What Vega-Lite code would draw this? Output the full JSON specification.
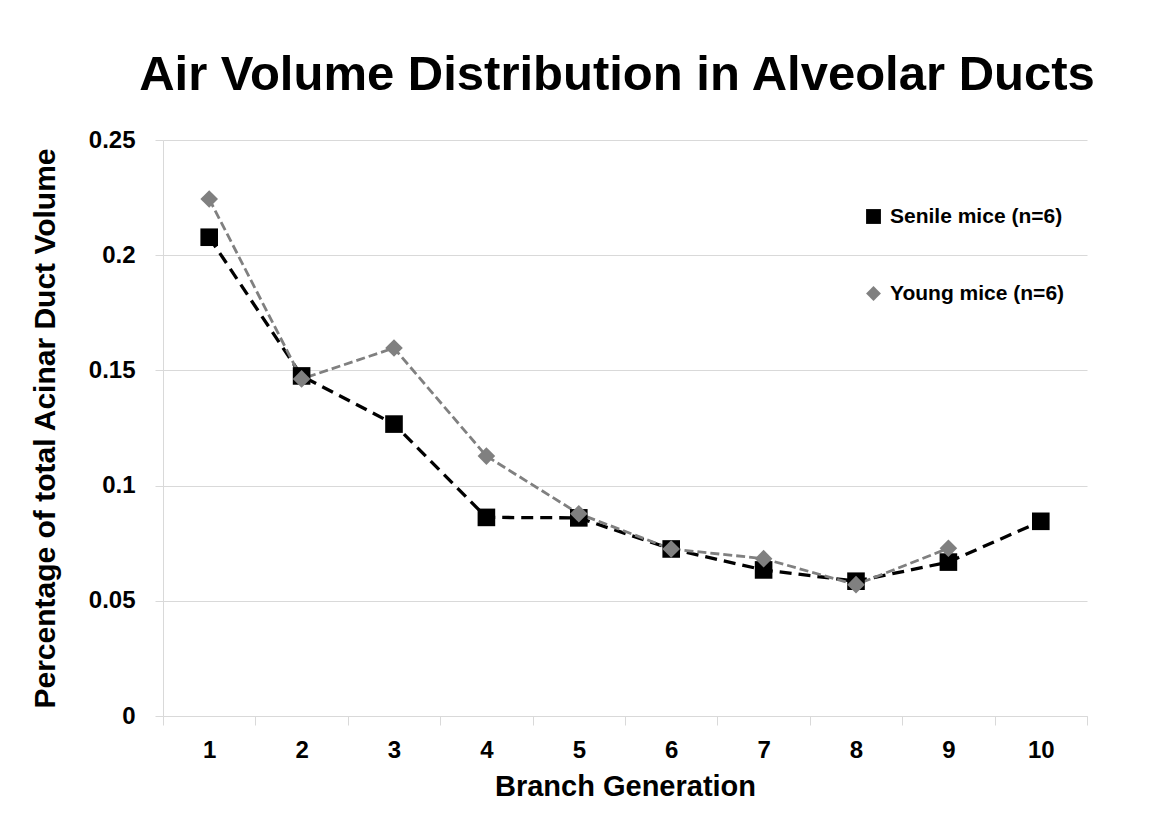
{
  "$schema": "https://vega.github.io/schema/vega-lite/v6.json",
  "autosize": {"type": "none"},
  "width": 924,
  "height": 576,
  "padding": {"left": 163, "top": 140, "right": 73, "bottom": 106},
  "background": "white",
  "title": {
    "text": "Air Volume Distribution in Alveolar Ducts",
    "font": "Liberation Sans",
    "fontSize": 49,
    "fontWeight": "bold",
    "color": "black",
    "anchor": "middle",
    "baseline": "alphabetic",
    "dx": -8,
    "offset": -11
  },
  "config": {
    "view": {"stroke": null},
    "font": "Liberation Sans",
    "axis": {
      "labelFont": "Liberation Sans",
      "titleFont": "Liberation Sans",
      "labelFontWeight": "bold",
      "titleFontWeight": "bold",
      "labelColor": "black",
      "titleColor": "black",
      "domainColor": "#d9d9d9",
      "tickColor": "#d9d9d9",
      "gridColor": "#d9d9d9",
      "domainWidth": 1,
      "tickWidth": 1,
      "gridWidth": 1
    },
    "legend": {
      "title": null,
      "orient": "none",
      "legendX": 700,
      "legendY": 66,
      "labelFont": "Liberation Sans",
      "labelFontSize": 21,
      "labelFontWeight": "bold",
      "labelColor": "black",
      "labelLimit": 400,
      "symbolSize": 220,
      "symbolStrokeWidth": 0,
      "rowPadding": 55,
      "labelOffset": 6
    }
  },
  "data": {
    "values": [
      {"gen": 1, "group": "Senile mice (n=6)", "value": 0.2078},
      {"gen": 2, "group": "Senile mice (n=6)", "value": 0.1476},
      {"gen": 3, "group": "Senile mice (n=6)", "value": 0.1267},
      {"gen": 4, "group": "Senile mice (n=6)", "value": 0.0862},
      {"gen": 5, "group": "Senile mice (n=6)", "value": 0.086},
      {"gen": 6, "group": "Senile mice (n=6)", "value": 0.0725},
      {"gen": 7, "group": "Senile mice (n=6)", "value": 0.0634},
      {"gen": 8, "group": "Senile mice (n=6)", "value": 0.0585},
      {"gen": 9, "group": "Senile mice (n=6)", "value": 0.0668},
      {"gen": 10, "group": "Senile mice (n=6)", "value": 0.0845},
      {"gen": 1, "group": "Young mice (n=6)", "value": 0.2244},
      {"gen": 2, "group": "Young mice (n=6)", "value": 0.1463},
      {"gen": 3, "group": "Young mice (n=6)", "value": 0.1597},
      {"gen": 4, "group": "Young mice (n=6)", "value": 0.1128},
      {"gen": 5, "group": "Young mice (n=6)", "value": 0.0878},
      {"gen": 6, "group": "Young mice (n=6)", "value": 0.0725},
      {"gen": 7, "group": "Young mice (n=6)", "value": 0.0683},
      {"gen": 8, "group": "Young mice (n=6)", "value": 0.057},
      {"gen": 9, "group": "Young mice (n=6)", "value": 0.0728}
    ]
  },
  "encoding": {
    "x": {
      "field": "gen",
      "type": "ordinal",
      "scale": {"type": "band", "paddingInner": 0, "paddingOuter": 0},
      "axis": {
        "title": "Branch Generation",
        "titleFontSize": 29,
        "titlePadding": 10,
        "labelFontSize": 24,
        "labelAngle": 0,
        "labelPadding": 13,
        "tickSize": 9,
        "tickBand": "extent",
        "grid": false
      }
    },
    "y": {
      "field": "value",
      "type": "quantitative",
      "scale": {"domain": [0, 0.25], "nice": false, "zero": true},
      "axis": {
        "title": "Percentage of total Acinar Duct Volume",
        "titleFontSize": 30,
        "titlePadding": 28,
        "labelFontSize": 24,
        "labelPadding": 20,
        "tickSize": 8,
        "values": [0, 0.05, 0.1, 0.15, 0.2, 0.25],
        "format": ".2~f",
        "grid": true
      }
    }
  },
  "layer": [
    {
      "transform": [{"filter": "datum.group === 'Senile mice (n=6)'"}],
      "mark": {"type": "line", "strokeCap": "butt", "color": "#000000", "strokeWidth": 3.3, "strokeDash": [12, 7]},
      "encoding": {}
    },
    {
      "transform": [{"filter": "datum.group === 'Young mice (n=6)'"}],
      "mark": {"type": "line", "strokeCap": "butt", "color": "#808080", "strokeWidth": 2.8, "strokeDash": [9, 4]},
      "encoding": {}
    },
    {
      "mark": {"type": "point", "filled": true, "opacity": 1, "size": 310},
      "encoding": {
        "shape": {
          "field": "group",
          "type": "nominal",
          "scale": {"domain": ["Senile mice (n=6)", "Young mice (n=6)"], "range": ["square", "diamond"]}
        },
        "color": {
          "field": "group",
          "type": "nominal",
          "scale": {"domain": ["Senile mice (n=6)", "Young mice (n=6)"], "range": ["#000000", "#808080"]}
        }
      }
    }
  ]
}
